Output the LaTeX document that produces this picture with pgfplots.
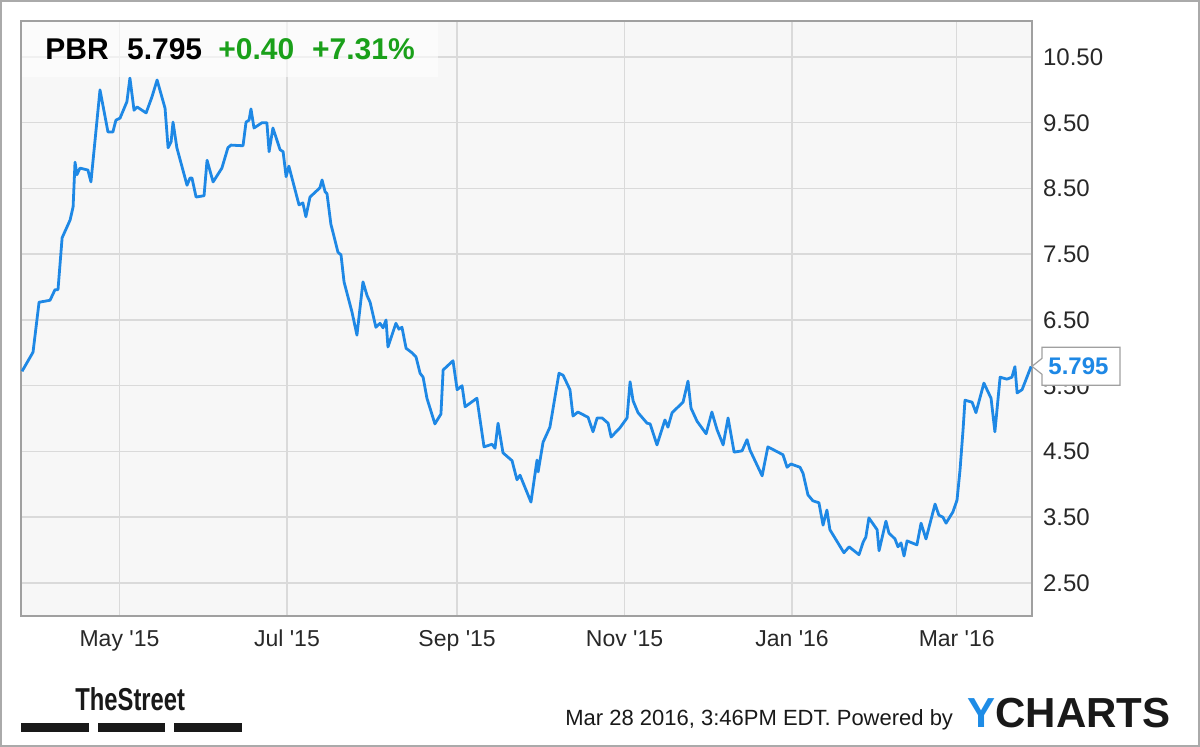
\documentclass[border=0pt]{standalone}
\usepackage{fontspec}
\setmainfont{Liberation Sans}
\usepackage{graphicx}
\usepackage{pgfplots}
\usepackage{pgfplotstable}
\usetikzlibrary{calc}
\pgfplotsset{compat=1.18}
\definecolor{linecol}{RGB}{30,136,229}
\definecolor{plotbg}{RGB}{247,247,247}
\definecolor{gridcol}{RGB}{218,218,218}
\definecolor{bordercol}{RGB}{160,160,160}
\definecolor{framecol}{RGB}{170,170,170}
\definecolor{labelcol}{RGB}{40,40,40}
\definecolor{upgreen}{RGB}{26,160,26}
\definecolor{ychblue}{RGB}{30,140,230}
\definecolor{dark}{RGB}{25,25,25}

\pgfplotstableread{
d v
-35.5 5.72
-31.5 6.01
-29.3 6.77
-25.3 6.80
-23.5 6.96
-22.4 6.96
-20.9 7.75
-18.0 8.02
-16.9 8.22
-16.2 8.90
-15.5 8.71
-14.4 8.81
-11.5 8.78
-10.4 8.60
-7.1 10.00
-4.2 9.36
-2.4 9.36
-1.3 9.54
0.2 9.57
2.7 9.82
3.8 10.18
5.3 9.69
6.4 9.74
9.7 9.65
11.8 9.89
13.7 10.15
16.6 9.72
17.7 9.12
18.8 9.21
19.5 9.51
20.9 9.12
24.6 8.55
25.7 8.66
26.4 8.66
27.9 8.37
30.8 8.39
31.9 8.93
34.1 8.60
37.3 8.81
39.5 9.12
40.6 9.16
45.0 9.15
46.1 9.51
47.2 9.54
47.9 9.71
49.0 9.42
51.9 9.50
53.7 9.50
54.5 9.06
55.9 9.42
58.5 9.09
59.6 9.06
60.7 8.68
61.7 8.84
65.4 8.25
66.8 8.28
67.9 8.07
69.4 8.37
73.0 8.51
73.8 8.63
74.9 8.45
75.6 8.42
77.0 7.96
79.6 7.53
80.7 7.49
81.8 7.08
84.7 6.62
86.5 6.27
88.7 7.08
90.2 6.87
91.3 6.77
93.4 6.39
94.9 6.45
96.0 6.38
97.1 6.50
97.8 6.09
100.7 6.45
101.8 6.36
102.9 6.39
104.4 6.07
106.6 6.00
108.0 5.94
109.5 5.69
110.6 5.63
112.0 5.31
114.9 4.92
117.1 5.07
117.9 5.74
121.5 5.88
123.0 5.44
124.8 5.50
125.9 5.18
130.2 5.31
132.8 4.57
135.7 4.61
136.8 4.55
137.9 4.93
139.7 4.48
143.0 4.36
144.8 4.07
145.9 4.14
149.9 3.73
152.1 4.37
152.5 4.19
154.3 4.64
156.8 4.87
160.1 5.69
161.6 5.66
164.1 5.44
165.2 5.04
167.0 5.10
170.7 5.02
172.5 4.80
174.0 5.01
175.8 5.01
178.0 4.93
179.1 4.72
182.3 4.86
184.9 5.01
186.0 5.56
187.1 5.27
188.9 5.09
192.2 4.93
193.3 4.92
195.8 4.60
198.7 4.98
199.8 4.87
201.3 5.09
205.3 5.25
207.1 5.57
208.2 5.16
210.4 4.96
213.7 4.77
215.8 5.10
217.7 4.83
219.9 4.60
221.7 5.01
223.9 4.49
226.8 4.51
228.6 4.68
229.7 4.52
234.1 4.13
236.2 4.57
239.9 4.49
241.7 4.45
243.2 4.26
244.6 4.31
247.9 4.26
249.0 4.17
250.8 3.84
252.6 3.75
254.8 3.72
256.3 3.38
257.7 3.61
258.8 3.31
263.9 2.96
265.8 3.05
269.4 2.93
270.9 3.12
271.9 3.20
273.0 3.49
276.0 3.31
276.7 2.99
279.2 3.44
280.3 3.26
282.5 3.17
283.6 3.05
284.7 3.11
285.8 2.91
286.9 3.14
290.5 3.08
292.0 3.41
293.8 3.17
297.1 3.70
298.5 3.53
300.0 3.50
301.1 3.41
303.6 3.58
305.1 3.76
306.2 4.22
307.3 4.83
308.0 5.28
310.6 5.25
312.0 5.09
314.9 5.54
317.5 5.31
318.9 4.80
320.8 5.63
323.3 5.60
325.1 5.63
326.2 5.79
327.0 5.39
328.8 5.44
332.1 5.795
}\pbr

\begin{document}
\begin{tikzpicture}
\path[use as bounding box] (0,0) rectangle (600pt,373.5pt);
\fill[white] (0,0) rectangle (600pt,373.5pt);
\begin{axis}[
  at={(10.5pt,65.5pt)}, anchor=south west,
  scale only axis, width=505.5pt, height=297.5pt,
  xmin=-35.88, xmax=332.42, ymin=1.998, ymax=11.048,
  axis background/.style={fill=plotbg},
  axis line style={draw=bordercol, line width=0.8pt},
  grid=major, major grid style={draw=gridcol, line width=0.75pt},
  major tick length=0pt,
  xtick={0,61,123,184,245,305},
  xticklabels={May \textquotesingle15, Jul \textquotesingle15, Sep \textquotesingle15, Nov \textquotesingle15, Jan \textquotesingle16, Mar \textquotesingle16},
  xticklabel style={anchor=base, yshift=-15.35pt, font=\fontsize{11.5}{13}\selectfont, text=labelcol},
  ytick={2.5,3.5,4.5,5.5,6.5,7.5,8.5,9.5,10.5},
  yticklabel pos=right,
  /pgf/number format/assume math mode=true,
  yticklabel style={anchor=west, inner sep=0pt, xshift=5.35pt, font=\fontsize{12}{14}\selectfont, text=labelcol,
    /pgf/number format/fixed, /pgf/number format/fixed zerofill, /pgf/number format/precision=2},
]
\addplot[linecol, line width=1.4pt, line join=round, no markers] table[x=d, y=v] {\pbr};
\coordinate (tip) at (axis cs:332.42,5.795);
\end{axis}
% value tag
\draw[bordercol, line width=0.6pt, fill=white] (tip) -- ++(5pt,4pt) -- ++(0pt,5.5pt) -- ++(39pt,0pt) -- ++(0pt,-19pt) -- ++(-39pt,0pt) -- ++(0pt,5.5pt) -- cycle;
\node[anchor=west, inner sep=0pt, text=linecol, font=\fontsize{12}{14}\selectfont\bfseries] at ($(tip)+(8pt,0pt)$) {5.795};
\begin{scope}[x=0.5pt,y=0.5pt]
% title box
\fill[white, opacity=0.6] (22,725) rectangle (438,670);
\node[anchor=base west, inner sep=0pt, text=black, font=\fontsize{15}{18}\selectfont\bfseries] at (45,687) {PBR};
\node[anchor=base west, inner sep=0pt, text=black, font=\fontsize{15}{18}\selectfont\bfseries] at (126.7,687) {5.795};
\node[anchor=base west, inner sep=0pt, text=upgreen, font=\fontsize{15}{18}\selectfont\bfseries] at (218,687) {+0.40};
\node[anchor=base west, inner sep=0pt, text=upgreen, font=\fontsize{15}{18}\selectfont\bfseries] at (311.7,687) {+7.31\%};
% footer
\node[anchor=base west, inner sep=0pt, text=dark] at (75,36.3) {\scalebox{0.75}[1]{\fontsize{15.85}{18}\selectfont\bfseries TheStreet}};
\fill[dark] (20.7,14.7) rectangle (89,23.7);
\fill[dark] (97.7,14.7) rectangle (165,23.7);
\fill[dark] (174,14.7) rectangle (241.7,23.7);
\node[anchor=base west, inner sep=0pt, text=dark, font=\fontsize{11}{13}\selectfont] at (565,21) {Mar 28 2016, 3:46PM EDT. Powered by};
\node[anchor=base west, inner sep=0pt, text=dark, font=\fontsize{21}{24}\selectfont\bfseries] at (967,19) {{\color{ychblue}Y}CHARTS};
% outer frame
\draw[framecol, line width=1pt] (1,1) rectangle (1199,746);
\end{scope}
\end{tikzpicture}
\end{document}
